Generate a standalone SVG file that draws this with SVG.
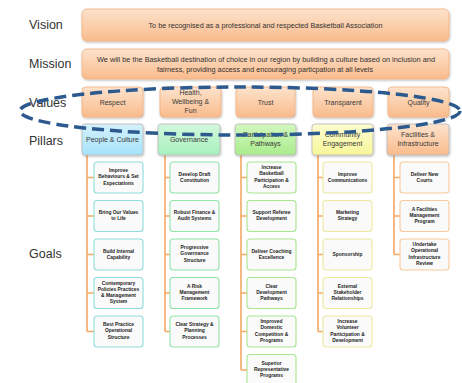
<svg xmlns="http://www.w3.org/2000/svg" width="462" height="383" viewBox="0 0 462 383">
  <defs>
    <linearGradient id="gOrange" x1="0" y1="0" x2="0" y2="1">
      <stop offset="0" stop-color="#fde3cd"/>
      <stop offset="1" stop-color="#f9bb8c"/>
    </linearGradient>
    <linearGradient id="gBlue" x1="0" y1="0" x2="0" y2="1">
      <stop offset="0" stop-color="#d4f1fc"/>
      <stop offset="1" stop-color="#a6e2fa"/>
    </linearGradient>
    <linearGradient id="gMint" x1="0" y1="0" x2="0" y2="1">
      <stop offset="0" stop-color="#d2f8dc"/>
      <stop offset="1" stop-color="#a8f0be"/>
    </linearGradient>
    <linearGradient id="gGreen" x1="0" y1="0" x2="0" y2="1">
      <stop offset="0" stop-color="#d2f7c0"/>
      <stop offset="1" stop-color="#aaec8c"/>
    </linearGradient>
    <linearGradient id="gYellow" x1="0" y1="0" x2="0" y2="1">
      <stop offset="0" stop-color="#fcfcd0"/>
      <stop offset="1" stop-color="#f7f79a"/>
    </linearGradient>
    <filter id="shadow" x="-10%" y="-20%" width="120%" height="150%">
      <feDropShadow dx="0.6" dy="1.2" stdDeviation="0.9" flood-color="#000" flood-opacity="0.28"/>
    </filter>
  </defs>
  <style>
    .lbl { font-family: "Liberation Sans", Arial, sans-serif; font-size: 12.5px; fill: #333; }
    .top { fill: url(#gOrange); stroke: #f2ae7c; stroke-width: 0.8; filter: url(#shadow); }
    .toptxt { font-family: "Liberation Sans", Arial, sans-serif; font-size: 6.8px; fill: #333; text-anchor: middle; }
    .val { fill: url(#gOrange); stroke: #f2ae7c; stroke-width: 0.8; filter: url(#shadow); }
    .pil { stroke: #b9b9b9; stroke-width: 0.8; filter: url(#shadow); }
    .ntxt { font-family: "Liberation Sans", Arial, sans-serif; font-size: 7px; fill: #3a3a3a; text-anchor: middle; }
    .goal { fill: #fafafa; stroke-width: 1.1; }
    .gtxt { font-family: "Liberation Sans", Arial, sans-serif; font-size: 4.9px; font-weight: bold; fill: #222; text-anchor: middle; }
    .conn { fill: none; stroke: #f6a864; stroke-width: 1.6; }
    .c1 { stroke: #8fdcdc; }
    .c2 { stroke: #92e3a8; }
    .c3 { stroke: #a8e690; }
    .c4 { stroke: #ecea9e; }
    .c5 { stroke: #f8c99c; }
  </style>

  <!-- row labels -->
  <text class="lbl" x="29" y="29">Vision</text>
  <text class="lbl" x="29" y="68">Mission</text>
  <text class="lbl" x="29" y="107">Values</text>
  <text class="lbl" x="29" y="145">Pillars</text>
  <text class="lbl" x="29" y="258">Goals</text>

  <!-- vision / mission -->
  <g id="vision">
    <rect class="top" x="82" y="9" width="367" height="32" rx="5"/>
    <text class="toptxt" x="265.5" y="27.5" textLength="234" lengthAdjust="spacingAndGlyphs">To be recognised as a professional and respected Basketball Association</text>
  </g>
  <g id="mission">
    <rect class="top" x="82" y="49" width="367" height="30" rx="5"/>
    <text class="toptxt" x="266" y="62" textLength="338" lengthAdjust="spacingAndGlyphs">We will be the Basketball destination of choice in our region by building a culture based on inclusion and</text>
    <text class="toptxt" x="265" y="71.5" textLength="216" lengthAdjust="spacingAndGlyphs">fairness, providing access and encouraging particpation at all levels</text>
  </g>

  <!-- connectors: pillar spines and goal ticks -->
  <g id="connectors" class="conn">
    <path d="M87 155 V331.5 M87 177.5 H94 M87 216 H94 M87 254.5 H94 M87 293 H94 M87 331.5 H94"/>
    <path d="M165 155 V331.5 M165 177.5 H170 M165 216 H170 M165 254.5 H170 M165 293 H170 M165 331.5 H170"/>
    <path d="M241 155 V370 M241 177.5 H247 M241 216 H247 M241 254.5 H247 M241 293 H247 M241 331.5 H247 M241 370 H247"/>
    <path d="M318 155 V331.5 M318 177.5 H323 M318 216 H323 M318 254.5 H323 M318 293 H323 M318 331.5 H323"/>
    <path d="M394 155 V254.5 M394 177.5 H400 M394 216 H400 M394 254.5 H400"/>
  </g>

  <!-- values -->
  <g id="value-respect">
    <rect class="val" x="82" y="87" width="61" height="30" rx="4"/>
    <text class="ntxt" x="112.5" y="104.5">Respect</text>
  </g>
  <g id="value-health">
    <rect class="val" x="160" y="87" width="61" height="30" rx="4"/>
    <text class="ntxt" x="190.5" y="95">Health,</text>
    <text class="ntxt" x="190.5" y="104">Wellbeing &amp;</text>
    <text class="ntxt" x="190.5" y="113">Fun</text>
  </g>
  <g id="value-trust">
    <rect class="val" x="236" y="87" width="59" height="30" rx="4"/>
    <text class="ntxt" x="265.5" y="104.5">Trust</text>
  </g>
  <g id="value-transparent">
    <rect class="val" x="313" y="87" width="60" height="30" rx="4"/>
    <text class="ntxt" x="343" y="104.5">Transparent</text>
  </g>
  <g id="value-quality">
    <rect class="val" x="388" y="87" width="61" height="30" rx="4"/>
    <text class="ntxt" x="418.5" y="104.5">Quality</text>
  </g>

  <!-- pillars -->
  <g id="pillar-people">
    <rect class="pil" x="82" y="124" width="61" height="31" rx="3" fill="url(#gBlue)"/>
    <text class="ntxt" x="112.5" y="142">People &amp; Culture</text>
  </g>
  <g id="pillar-governance">
    <rect class="pil" x="158" y="124" width="62" height="31" rx="3" fill="url(#gMint)"/>
    <text class="ntxt" x="189" y="142">Governance</text>
  </g>
  <g id="pillar-participation">
    <rect class="pil" x="235" y="124" width="61" height="31" rx="3" fill="url(#gGreen)"/>
    <text class="ntxt" x="265.5" y="137">Participation &amp;</text>
    <text class="ntxt" x="265.5" y="145.5">Pathways</text>
  </g>
  <g id="pillar-community">
    <rect class="pil" x="312" y="124" width="61" height="31" rx="3" fill="url(#gYellow)"/>
    <text class="ntxt" x="342.5" y="137">Community</text>
    <text class="ntxt" x="342.5" y="145.5">Engagement</text>
  </g>
  <g id="pillar-facilities">
    <rect class="pil" x="387" y="124" width="62" height="31" rx="3" fill="url(#gOrange)" stroke="#f2ae7c"/>
    <text class="ntxt" x="418" y="137">Facilities &amp;</text>
    <text class="ntxt" x="418" y="145.5">Infrastructure</text>
  </g>

  <!-- goals: People & Culture -->
  <g id="goal-p1"><rect class="goal c1" x="94" y="162" width="49" height="31" rx="3"/>
    <text class="gtxt" x="118.5" y="172">Improve</text><text class="gtxt" x="118.5" y="178.3">Behaviours &amp; Set</text><text class="gtxt" x="118.5" y="184.6">Expectations</text></g>
  <g id="goal-p2"><rect class="goal c1" x="94" y="200.5" width="49" height="31" rx="3"/>
    <text class="gtxt" x="118.5" y="214">Bring Our Values</text><text class="gtxt" x="118.5" y="220.3">to Life</text></g>
  <g id="goal-p3"><rect class="goal c1" x="94" y="239" width="49" height="31" rx="3"/>
    <text class="gtxt" x="118.5" y="252.5">Build Internal</text><text class="gtxt" x="118.5" y="258.8">Capability</text></g>
  <g id="goal-p4"><rect class="goal c1" x="94" y="277.5" width="49" height="31" rx="3"/>
    <text class="gtxt" x="118.5" y="284.5">Contemporary</text><text class="gtxt" x="118.5" y="290.8">Policies Practices</text><text class="gtxt" x="118.5" y="297.1">&amp; Management</text><text class="gtxt" x="118.5" y="303.4">System</text></g>
  <g id="goal-p5"><rect class="goal c1" x="94" y="316" width="49" height="31" rx="3"/>
    <text class="gtxt" x="118.5" y="326">Best Practice</text><text class="gtxt" x="118.5" y="332.3">Operational</text><text class="gtxt" x="118.5" y="338.6">Structure</text></g>

  <!-- goals: Governance -->
  <g id="goal-g1"><rect class="goal c2" x="170" y="162" width="49" height="31" rx="3"/>
    <text class="gtxt" x="194.5" y="175.5">Develop Draft</text><text class="gtxt" x="194.5" y="181.8">Constitution</text></g>
  <g id="goal-g2"><rect class="goal c2" x="170" y="200.5" width="49" height="31" rx="3"/>
    <text class="gtxt" x="194.5" y="214">Robust Finance &amp;</text><text class="gtxt" x="194.5" y="220.3">Audit Systems</text></g>
  <g id="goal-g3"><rect class="goal c2" x="170" y="239" width="49" height="31" rx="3"/>
    <text class="gtxt" x="194.5" y="249">Progressive</text><text class="gtxt" x="194.5" y="255.3">Governance</text><text class="gtxt" x="194.5" y="261.6">Structure</text></g>
  <g id="goal-g4"><rect class="goal c2" x="170" y="277.5" width="49" height="31" rx="3"/>
    <text class="gtxt" x="194.5" y="287.5">A Risk</text><text class="gtxt" x="194.5" y="293.8">Management</text><text class="gtxt" x="194.5" y="300.1">Framework</text></g>
  <g id="goal-g5"><rect class="goal c2" x="170" y="316" width="49" height="31" rx="3"/>
    <text class="gtxt" x="194.5" y="326">Clear Strategy &amp;</text><text class="gtxt" x="194.5" y="332.3">Planning</text><text class="gtxt" x="194.5" y="338.6">Processes</text></g>

  <!-- goals: Participation & Pathways -->
  <g id="goal-pp1"><rect class="goal c3" x="247" y="162" width="49" height="31" rx="3"/>
    <text class="gtxt" x="271.5" y="169">Increase</text><text class="gtxt" x="271.5" y="175.3">Basketball</text><text class="gtxt" x="271.5" y="181.6">Participation &amp;</text><text class="gtxt" x="271.5" y="187.9">Access</text></g>
  <g id="goal-pp2"><rect class="goal c3" x="247" y="200.5" width="49" height="31" rx="3"/>
    <text class="gtxt" x="271.5" y="214">Support Referee</text><text class="gtxt" x="271.5" y="220.3">Development</text></g>
  <g id="goal-pp3"><rect class="goal c3" x="247" y="239" width="49" height="31" rx="3"/>
    <text class="gtxt" x="271.5" y="252.5">Deliver Coaching</text><text class="gtxt" x="271.5" y="258.8">Excellence</text></g>
  <g id="goal-pp4"><rect class="goal c3" x="247" y="277.5" width="49" height="31" rx="3"/>
    <text class="gtxt" x="271.5" y="287.5">Clear</text><text class="gtxt" x="271.5" y="293.8">Development</text><text class="gtxt" x="271.5" y="300.1">Pathways</text></g>
  <g id="goal-pp5"><rect class="goal c3" x="247" y="316" width="49" height="31" rx="3"/>
    <text class="gtxt" x="271.5" y="323">Improved</text><text class="gtxt" x="271.5" y="329.3">Domestic</text><text class="gtxt" x="271.5" y="335.6">Competition &amp;</text><text class="gtxt" x="271.5" y="341.9">Programs</text></g>
  <g id="goal-pp6"><rect class="goal c3" x="247" y="354.5" width="49" height="31" rx="3"/>
    <text class="gtxt" x="271.5" y="364.5">Superior</text><text class="gtxt" x="271.5" y="370.8">Representative</text><text class="gtxt" x="271.5" y="377.1">Programs</text></g>

  <!-- goals: Community Engagement -->
  <g id="goal-c1"><rect class="goal c4" x="323" y="162" width="49" height="31" rx="3"/>
    <text class="gtxt" x="347.5" y="175.5">Improve</text><text class="gtxt" x="347.5" y="181.8">Communications</text></g>
  <g id="goal-c2"><rect class="goal c4" x="323" y="200.5" width="49" height="31" rx="3"/>
    <text class="gtxt" x="347.5" y="214">Marketing</text><text class="gtxt" x="347.5" y="220.3">Strategy</text></g>
  <g id="goal-c3"><rect class="goal c4" x="323" y="239" width="49" height="31" rx="3"/>
    <text class="gtxt" x="347.5" y="256">Sponsorship</text></g>
  <g id="goal-c4"><rect class="goal c4" x="323" y="277.5" width="49" height="31" rx="3"/>
    <text class="gtxt" x="347.5" y="287.5">External</text><text class="gtxt" x="347.5" y="293.8">Stakeholder</text><text class="gtxt" x="347.5" y="300.1">Relationships</text></g>
  <g id="goal-c5"><rect class="goal c4" x="323" y="316" width="49" height="31" rx="3"/>
    <text class="gtxt" x="347.5" y="323">Increase</text><text class="gtxt" x="347.5" y="329.3">Volunteer</text><text class="gtxt" x="347.5" y="335.6">Participation &amp;</text><text class="gtxt" x="347.5" y="341.9">Development</text></g>

  <!-- goals: Facilities & Infrastructure -->
  <g id="goal-f1"><rect class="goal c5" x="400" y="162" width="49" height="31" rx="3"/>
    <text class="gtxt" x="424.5" y="175.5">Deliver New</text><text class="gtxt" x="424.5" y="181.8">Courts</text></g>
  <g id="goal-f2"><rect class="goal c5" x="400" y="200.5" width="49" height="31" rx="3"/>
    <text class="gtxt" x="424.5" y="210.5">A Facilities</text><text class="gtxt" x="424.5" y="216.8">Management</text><text class="gtxt" x="424.5" y="223.1">Program</text></g>
  <g id="goal-f3"><rect class="goal c5" x="400" y="239" width="49" height="31" rx="3"/>
    <text class="gtxt" x="424.5" y="246">Undertake</text><text class="gtxt" x="424.5" y="252.3">Operational</text><text class="gtxt" x="424.5" y="258.6">Infrastructure</text><text class="gtxt" x="424.5" y="264.9">Review</text></g>

  <!-- dashed outline around the values row -->
  <ellipse id="values-outline" cx="240" cy="111" rx="220" ry="24" fill="none" stroke="#2c5a8e" stroke-width="3.5" stroke-dasharray="12 6"/>
</svg>
